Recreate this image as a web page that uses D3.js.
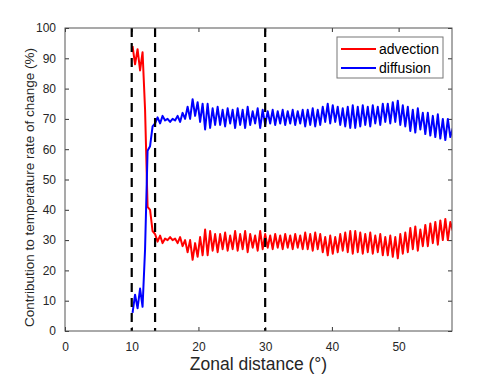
<!DOCTYPE html>
<html>
<head>
<meta charset="utf-8">
<script src="https://cdn.jsdelivr.net/npm/d3@7"></script>
<style>
  body { margin: 0; background: #fff; }
  text { font-family: "Liberation Sans", Arial, sans-serif; }
</style>
</head>
<body>
<div id="chart"></div>
<script>
// Datos (paso de 0.375° a partir de 10.125°)
const zonalStart = 10.125;
const zonalStep = 0.375;

const advection = [
  94, 88, 93, 86, 92, 73, 41, 40, 33, 32,
  29.5, 31.5, 29, 30.5, 30, 31, 30, 30.5, 29, 31,
  28, 30, 26, 30, 23.5, 29, 24.5, 31, 25, 33.5,
  25, 33, 26.5, 32, 26, 32, 27, 32.5, 26.5, 31.5,
  27, 33, 26.5, 32, 27, 33, 26, 32, 27.5, 31.5,
  26.5, 33, 27, 32, 27.5, 31.5, 27, 32, 27.5, 31.5,
  27, 32, 27.5, 31.5, 27, 32, 27.5, 31.5, 27, 32.5,
  27, 32, 26.5, 32.5, 27, 32, 26, 31, 25, 31.5,
  25.5, 31, 26, 32, 26.5, 32.5, 26, 33, 25.5, 33,
  26, 32.5, 25.5, 32, 26, 32.5, 25.5, 31.5, 26, 32,
  25, 31, 25, 31.5, 24.5, 31, 24, 32, 25.5, 32.5,
  26, 34, 27, 34.5, 26.5, 33.5, 28, 35, 28, 35.5,
  29, 36, 28.5, 36.5, 30, 37, 30, 36, 33
];

const diffusion = [
  6, 12, 7.5, 14, 8, 27, 59.5, 61, 67.5, 68.5,
  70.5, 68.5, 71, 69.5, 70, 69, 70, 69.5, 71, 69,
  72, 70, 74, 70, 76.5, 71, 75.5, 69, 75, 66.5,
  75, 67, 73.5, 68, 74, 68, 73, 67.5, 73.5, 68.5,
  73, 67, 73.5, 68, 73, 67, 74, 68, 72.5, 68.5,
  73.5, 67, 73, 68, 72.5, 68.5, 73, 68, 72.5, 68.5,
  73, 68, 72.5, 68.5, 73, 68, 72.5, 68.5, 73, 67.5,
  73, 68, 73.5, 67.5, 73, 68, 74, 69, 75, 68.5,
  74.5, 69, 74, 68, 73.5, 67.5, 74, 67, 74.5, 67,
  74, 67.5, 74.5, 68, 74, 67.5, 74.5, 68.5, 74, 68,
  75, 69, 75, 68.5, 75.5, 69, 76, 68, 74.5, 67.5,
  74, 66, 73, 65.5, 73.5, 66.5, 72, 65, 72, 64.5,
  71, 64, 71.5, 63.5, 70, 63, 70, 64, 67
];

// Líneas verticales de referencia
const boundaries = [10, 13.5, 30];

const xTicks = [0, 10, 20, 30, 40, 50];
const yTicks = [0, 10, 20, 30, 40, 50, 60, 70, 80, 90, 100];

const seriesNames = ["advection", "diffusion"];
const seriesColors = ["#ff0000", "#0000ff"];

const distances = advection.map((_, i) => zonalStart + i * zonalStep);
const series = [advection, diffusion].map((values, k) => ({
  name: seriesNames[k],
  color: seriesColors[k],
  points: values.map((v, i) => ({ x: distances[i], y: v }))
}));

// Configuración del gráfico
const margin = { top: 28, right: 48, bottom: 44, left: 65 };
const width = 500 - margin.left - margin.right;
const height = 375 - margin.top - margin.bottom;

const svg = d3.select("#chart")
  .append("svg")
  .attr("width", 500)
  .attr("height", 375)
  .append("g")
  .attr("transform", `translate(${margin.left},${margin.top})`);

// Escalas
const x = d3.scaleLinear().domain([0, 58]).range([0, width]);
const y = d3.scaleLinear().domain([0, 100]).range([height, 0]);

svg.append("defs").append("clipPath")
  .attr("id", "plot-clip")
  .append("rect")
  .attr("width", width)
  .attr("height", height);

// Ejes (ticks hacia dentro, estilo MATLAB)
const styleAxis = (g, labels) => {
  g.select(".domain").remove();
  g.selectAll(".tick line").attr("stroke", "#333");
  g.selectAll(".tick text")
    .attr("fill", labels ? "#262626" : "none")
    .attr("font-size", "12px");
};

svg.append("g")
  .attr("transform", `translate(0,${height})`)
  .call(d3.axisBottom(x).tickValues(xTicks).tickSizeInner(-4).tickSizeOuter(0).tickPadding(11))
  .call(g => styleAxis(g, true));

svg.append("g")
  .call(d3.axisTop(x).tickValues(xTicks).tickSizeInner(-4).tickSizeOuter(0))
  .call(g => styleAxis(g, false));

svg.append("g")
  .call(d3.axisLeft(y).tickValues(yTicks).tickSizeInner(-4).tickSizeOuter(0).tickPadding(9))
  .call(g => styleAxis(g, true));

svg.append("g")
  .attr("transform", `translate(${width},0)`)
  .call(d3.axisRight(y).tickValues(yTicks).tickSizeInner(-4).tickSizeOuter(0))
  .call(g => styleAxis(g, false));

// Líneas de datos
const line = d3.line().x(d => x(d.x)).y(d => y(d.y));

svg.append("g")
  .attr("clip-path", "url(#plot-clip)")
  .selectAll("path")
  .data(series)
  .enter()
  .append("path")
  .attr("d", d => line(d.points))
  .attr("fill", "none")
  .attr("stroke", d => d.color)
  .attr("stroke-width", 2)
  .attr("stroke-linejoin", "round");

// Líneas discontinuas
svg.selectAll(".boundary")
  .data(boundaries)
  .enter()
  .append("line")
  .attr("class", "boundary")
  .attr("x1", d => x(d))
  .attr("x2", d => x(d))
  .attr("y1", 0)
  .attr("y2", height)
  .attr("stroke", "#000")
  .attr("stroke-width", 2.2)
  .attr("stroke-dasharray", "9,6");

// Caja del eje
svg.append("rect")
  .attr("width", width)
  .attr("height", height)
  .attr("fill", "none")
  .attr("stroke", "#555")
  .attr("stroke-width", 1);

// Leyenda
const legend = svg.append("g").attr("transform", `translate(${width - 115},9)`);
legend.append("rect")
  .attr("width", 106)
  .attr("height", 41)
  .attr("fill", "#fff")
  .attr("stroke", "#777");

const entry = legend.selectAll(".entry")
  .data(series)
  .enter()
  .append("g")
  .attr("transform", (d, i) => `translate(0,${12 + i * 19})`);

entry.append("line")
  .attr("x1", 4)
  .attr("x2", 39)
  .attr("stroke", d => d.color)
  .attr("stroke-width", 2);

entry.append("text")
  .attr("x", 42)
  .attr("dy", "0.35em")
  .attr("font-size", "14px")
  .attr("fill", "#000")
  .text(d => d.name);

// Etiquetas de los ejes
svg.append("text")
  .attr("x", width / 2)
  .attr("y", height + 39)
  .style("text-anchor", "middle")
  .attr("font-size", "17.5px")
  .attr("fill", "#262626")
  .text("Zonal distance (°)");

svg.append("text")
  .attr("transform", "rotate(-90)")
  .attr("x", -height / 2 - 8)
  .attr("y", -margin.left + 34)
  .style("text-anchor", "middle")
  .attr("font-size", "13.5px")
  .attr("fill", "#262626")
  .text("Contribution to temperature rate of change (%)");
</script>
</body>
</html>
